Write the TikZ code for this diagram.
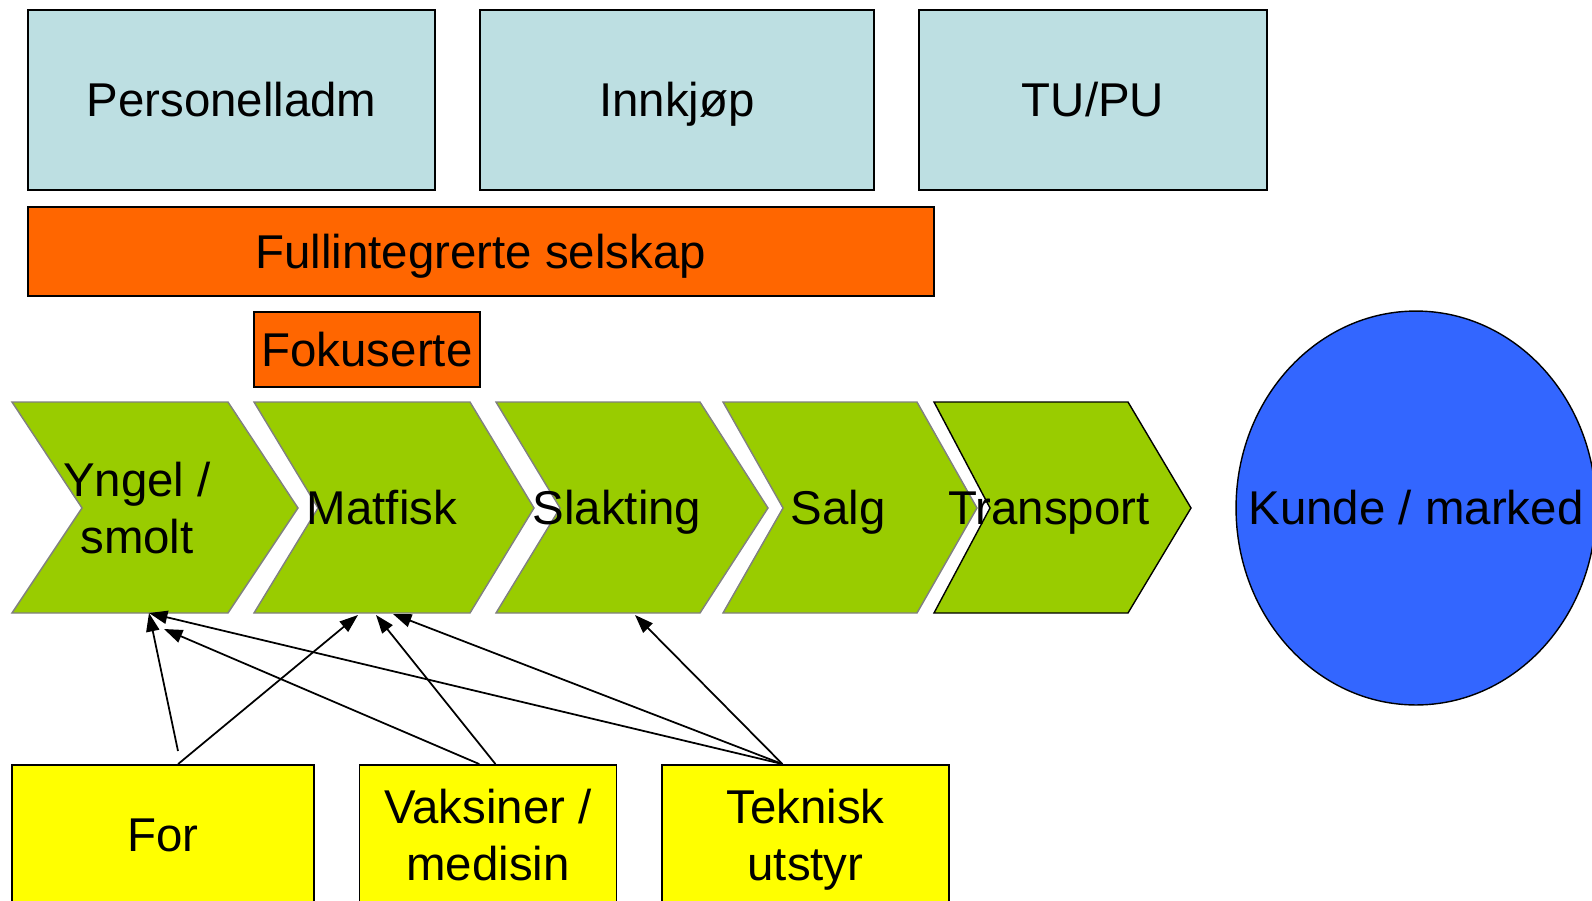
\documentclass[tikz,border=0pt]{standalone}
\usepackage{fontspec}
\setmainfont{Liberation Sans}
\usetikzlibrary{arrows.meta,shapes.geometric}
\definecolor{staff}{RGB}{189,223,226}
\definecolor{firm}{RGB}{255,102,0}
\definecolor{chain}{RGB}{153,204,0}
\definecolor{market}{RGB}{51,102,255}
\definecolor{supply}{RGB}{255,255,0}

\begin{document}
\begin{tikzpicture}[x=0.02cm,y=-0.02cm,
    txt/.style={inner sep=0pt,font=\fontsize{27}{32.6}\selectfont,
        text height=19.3pt,text depth=0pt},
    txtb/.style={inner sep=0pt,align=center,
        font=\fontsize{27}{32.6}\selectfont},
    box/.style={draw=black,line width=1.1pt},
    chev/.style={fill=chain,draw=gray,line width=0.8pt},
    feed/.style={-{Triangle[length=10.5pt,width=7.5pt]},line width=1pt}]

    \useasboundingbox (0,0) rectangle (1592,900);
    \clip (0,0) rectangle (1592,900);

    % staff functions
    \node[box,txt,fill=staff,minimum width=8.16cm,minimum height=3.6cm]
        (persadm) at (231.5,100) {Personelladm};
    \node[box,txt,fill=staff,minimum width=7.88cm,minimum height=3.6cm]
        (innkjop) at (677,100) {Innkjøp};
    \node[box,txt,fill=staff,minimum width=6.96cm,minimum height=3.6cm]
        (tupu) at (1093,100) {TU/PU};

    % the companies
    \node[box,txt,fill=firm,minimum width=18.13cm,minimum height=1.79cm]
        (fullint) at (480.7,251.7) {Fullintegrerte selskap};
    \node[box,txt,fill=firm,minimum width=4.52cm,minimum height=1.5cm]
        (fokus) at (367,349.5) {Fokuserte};

    % the value chain
    \draw[chev] (12,402) -- (228,402) -- (298,508) -- (228,613) -- (12,613)
        -- (82,508) -- cycle;
    \node[txtb] (yngel) at (137,508) {Yngel /\\smolt};
    \draw[chev] (254,402) -- (470,402) -- (534,508) -- (470,613) -- (254,613)
        -- (318,508) -- cycle;
    \node[txt] (matfisk) at (382,508) {Matfisk};
    \draw[chev] (496,402) -- (700,402) -- (768,508) -- (700,613) -- (496,613)
        -- (560,508) -- cycle;
    \node[txt] (slakting) at (617,508) {Slakting};
    \draw[chev] (723,402) -- (917,402) -- (977,508) -- (917,613) -- (723,613)
        -- (783,508) -- cycle;
    \node[txt] (salg) at (838,508) {Salg};
    \draw[chev,draw=black] (934,402) -- (1128,402) -- (1191,508) -- (1128,613)
        -- (934,613) -- (990,508) -- cycle;
    \node[txt] (transport) at (1049,508) {Transport};

    % the market
    \node[ellipse,draw=black,line width=0.8pt,fill=market,inner sep=0pt,
        minimum width=7.2cm,minimum height=7.88cm,
        label={[txt]center:Kunde / marked}] (kunde) at (1416,508) {};

    % the suppliers
    \node[box,txt,fill=supply,minimum width=6.03cm,minimum height=2.8cm]
        (for) at (163,835) {For};
    \node[box,txtb,fill=supply,minimum width=5.14cm,minimum height=2.8cm]
        (vaks) at (488,835) {Vaksiner /\\medisin};
    \node[box,txtb,fill=supply,minimum width=5.74cm,minimum height=2.8cm]
        (tekn) at (805.5,835) {Teknisk\\\raisebox{0pt}[\height][0pt]{utstyr}};

    % where the arrows land
    \coordinate (yngel-in) at (149,613);
    \coordinate (yngel-in2) at (164,629);
    \coordinate (matfisk-in1) at (358,615);
    \coordinate (matfisk-in2) at (376,615);
    \coordinate (matfisk-in3) at (393,614);
    \coordinate (slakting-in) at (635,615);
    \coordinate (for-free) at (178,751);

    \draw[feed] (for-free) -- (yngel-in);
    \draw[feed] (for.78) -- (matfisk-in1);
    \draw[feed] (vaks.97) -- (yngel-in2);
    \draw[feed] (vaks.84) -- (matfisk-in2);
    \draw[feed] (tekn.108) -- (yngel-in);
    \draw[feed] (tekn.108) -- (matfisk-in3);
    \draw[feed] (tekn.108) -- (slakting-in);
  \end{tikzpicture}
\end{document}
